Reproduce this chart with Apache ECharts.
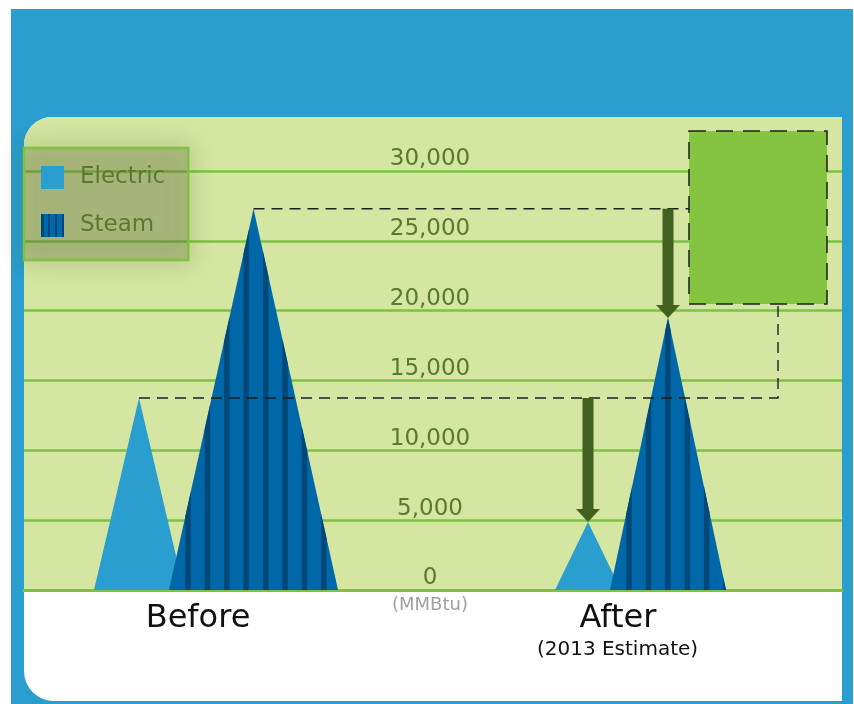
<!DOCTYPE html>
<html>
<head>
<meta charset="utf-8">
<script src="https://cdn.jsdelivr.net/npm/echarts@6/dist/echarts.min.js"></script>
<style>
  html, body { margin: 0; padding: 0; background: #fff; }
  #container { width: 854px; height: 704px; }
</style>
</head>
<body>
<div id="container"></div>
<script>
// data
var categories = ['Before', 'After'];
var electric = [13750, 4870];
var steam = [27300, 19480];
var yTickLabels = ['0', '5,000', '10,000', '15,000', '20,000', '25,000', '30,000'];

// triangle placement (px offset from category centre) and base width
var elecOffset = [-89.5, -49.5], elecWidth = [90, 66];
var steamOffset = [25, 30.5], steamWidth = [169, 116];

var FONT = 'DejaVu Sans';
var BLUE = '#2a9fcf', LIGHT = '#0068a9', DARK = '#00477a', OLIVE = '#587a2d';

function triangle(offsets, widths, striped) {
  return function (params, api) {
    var i = params.dataIndex;
    var base = api.coord([api.value(0), 0]);
    var top = api.coord([api.value(0), api.value(1)]);
    var cx = base[0] + offsets[i], hw = widths[i] / 2;
    var by = base[1], ty = top[1], L = cx - hw, R = cx + hw;
    var kids = [{
      type: 'polygon',
      shape: {points: [[L, by], [cx, ty], [R, by]]},
      style: {fill: striped ? LIGHT : BLUE}
    }];
    if (striped) {
      var yAt = function (x) { return by - (by - ty) * (1 - Math.abs(x - cx) / hw); };
      for (var s = L + 16.3; s < R; s += 19.4) {
        var a = s, b = Math.min(s + 5.5, R);
        var pts = [[a, by], [b, by], [b, yAt(b)]];
        if (a < cx && cx < b) pts.push([cx, ty]);
        pts.push([a, yAt(a)]);
        kids.push({type: 'polygon', shape: {points: pts}, style: {fill: DARK}});
      }
    }
    return {type: 'group', children: kids};
  };
}

function arrow(x, y1, y2) {
  var hh = 13;
  return {
    type: 'polygon',
    shape: {points: [[x - 5.5, y1], [x + 5.5, y1], [x + 5.5, y2 - hh], [x + 12, y2 - hh],
                     [x, y2], [x - 12, y2 - hh], [x - 5.5, y2 - hh]]},
    style: {fill: '#41621f'}
  };
}

// box that the dashed guides lead to
var box = {x: 689, y: 131, w: 138, h: 173};
var dash = {stroke: '#1e1e1e', lineWidth: 1.4, lineDash: [11, 7], fill: null};

function annotations(params, api) {
  var c0 = api.coord([0, 0]), c1 = api.coord([1, 0]);
  var yEB = api.coord([0, electric[0]])[1], ySB = api.coord([0, steam[0]])[1];
  var yEA = api.coord([1, electric[1]])[1], ySA = api.coord([1, steam[1]])[1];
  var xEB = c0[0] + elecOffset[0], xSB = c0[0] + steamOffset[0];
  var xEA = c1[0] + elecOffset[1], xSA = c1[0] + steamOffset[1];
  var xv = box.x + 89;
  return {
    type: 'group',
    children: [
      {type: 'polyline', shape: {points: [[xEB, yEB], [xv, yEB], [xv, box.y + box.h]]}, style: dash},
      {type: 'line', shape: {x1: xSB, y1: ySB, x2: box.x, y2: ySB}, style: dash},
      arrow(xSA, ySB, ySA),
      arrow(xEA, yEB, yEA)
    ]
  };
}

var myChart = echarts.init(document.getElementById('container'));
var option = {
  backgroundColor: '#fff',
  animation: false,
  textStyle: {fontFamily: FONT},
  graphic: [
    {type: 'rect', z: -30, shape: {x: 11, y: 9, width: 842, height: 695}, style: {fill: BLUE}},
    {type: 'rect', z: -20, shape: {x: 24, y: 117, width: 818, height: 584, r: [28, 0, 0, 30]}, style: {fill: '#fff'}},
    {type: 'rect', z: -10, shape: {x: 24, y: 117, width: 818, height: 473, r: [28, 0, 0, 0]}, style: {fill: '#d5e5a2'}},
    {type: 'rect', z: 5, shape: {x: box.x, y: box.y, width: box.w, height: box.h},
     style: {fill: '#85c441', stroke: '#1e1e1e', lineWidth: 1.5, lineDash: [17, 10]}},
    {type: 'text', z: 5, x: 430, y: 605,
     style: {text: '(MMBtu)', fill: '#a0a0a0', fontSize: 18, fontFamily: FONT, align: 'center', verticalAlign: 'middle'}}
  ],
  legend: {
    left: 24, top: 148,
    orient: 'vertical',
    padding: [18, 23, 23, 17],
    itemGap: 25,
    itemWidth: 23, itemHeight: 23,
    backgroundColor: 'rgba(113,119,72,0.3)',
    borderColor: '#7dc242', borderWidth: 2.5,
    shadowBlur: 22, shadowColor: 'rgba(60,70,20,0.45)',
    textStyle: {color: OLIVE, fontSize: 23, fontFamily: FONT, padding: [4, 0, 0, 11]},
    data: [
      {name: 'Electric', icon: 'rect'},
      {name: 'Steam', icon: 'rect', itemStyle: {color: new echarts.graphic.LinearGradient(0, 0, 1, 0, [
        {offset: 0, color: DARK}, {offset: 0.12, color: DARK}, {offset: 0.12, color: LIGHT},
        {offset: 0.3, color: LIGHT}, {offset: 0.3, color: DARK}, {offset: 0.4, color: DARK},
        {offset: 0.4, color: LIGHT}, {offset: 0.6, color: LIGHT}, {offset: 0.6, color: DARK},
        {offset: 0.7, color: DARK}, {offset: 0.7, color: LIGHT}, {offset: 0.9, color: LIGHT},
        {offset: 0.9, color: DARK}, {offset: 1, color: DARK}])}}
    ]
  },
  grid: {left: 24, right: 12, top: 171, bottom: 114},
  xAxis: {
    type: 'category',
    data: categories,
    axisLine: {lineStyle: {color: '#7dc242', width: 3}},
    axisTick: {show: false},
    axisLabel: {
      margin: 11,
      formatter: function (v) {
        return v === 'Before' ? '{b|Before}' : '{a|After}\n{s|(2013 Estimate)}';
      },
      rich: {
        b: {fontSize: 32, lineHeight: 36, color: '#111', fontFamily: FONT, padding: [0, 61, 0, 0]},
        a: {fontSize: 32, lineHeight: 36, color: '#111', fontFamily: FONT, padding: [0, 39, 0, 0]},
        s: {fontSize: 20, lineHeight: 22, color: '#111', fontFamily: FONT, padding: [4, 40, 0, 0]}
      }
    }
  },
  yAxis: {
    type: 'value',
    min: 0, max: 30000, interval: 5000,
    axisLine: {show: false},
    axisTick: {show: false},
    splitLine: {lineStyle: {color: '#7dc242', width: 2.5}},
    axisLabel: {
      inside: true, margin: 406, align: 'center', verticalAlign: 'bottom',
      color: OLIVE, fontSize: 23, fontFamily: FONT, padding: [0, 0, 0, 0],
      formatter: function (v) { return yTickLabels[v / 5000]; }
    }
  },
  series: [
    {name: 'Electric', type: 'custom', z: 2, itemStyle: {color: BLUE},
     renderItem: triangle(elecOffset, elecWidth, false),
     data: categories.map(function (c, i) { return [i, electric[i]]; })},
    {name: 'Steam', type: 'custom', z: 3, itemStyle: {color: LIGHT},
     renderItem: triangle(steamOffset, steamWidth, true),
     data: categories.map(function (c, i) { return [i, steam[i]]; })},
    {name: 'guides', type: 'custom', z: 4, silent: true,
     renderItem: annotations, data: [[0, 0]]}
  ]
};
myChart.setOption(option);
</script>
</body>
</html>
